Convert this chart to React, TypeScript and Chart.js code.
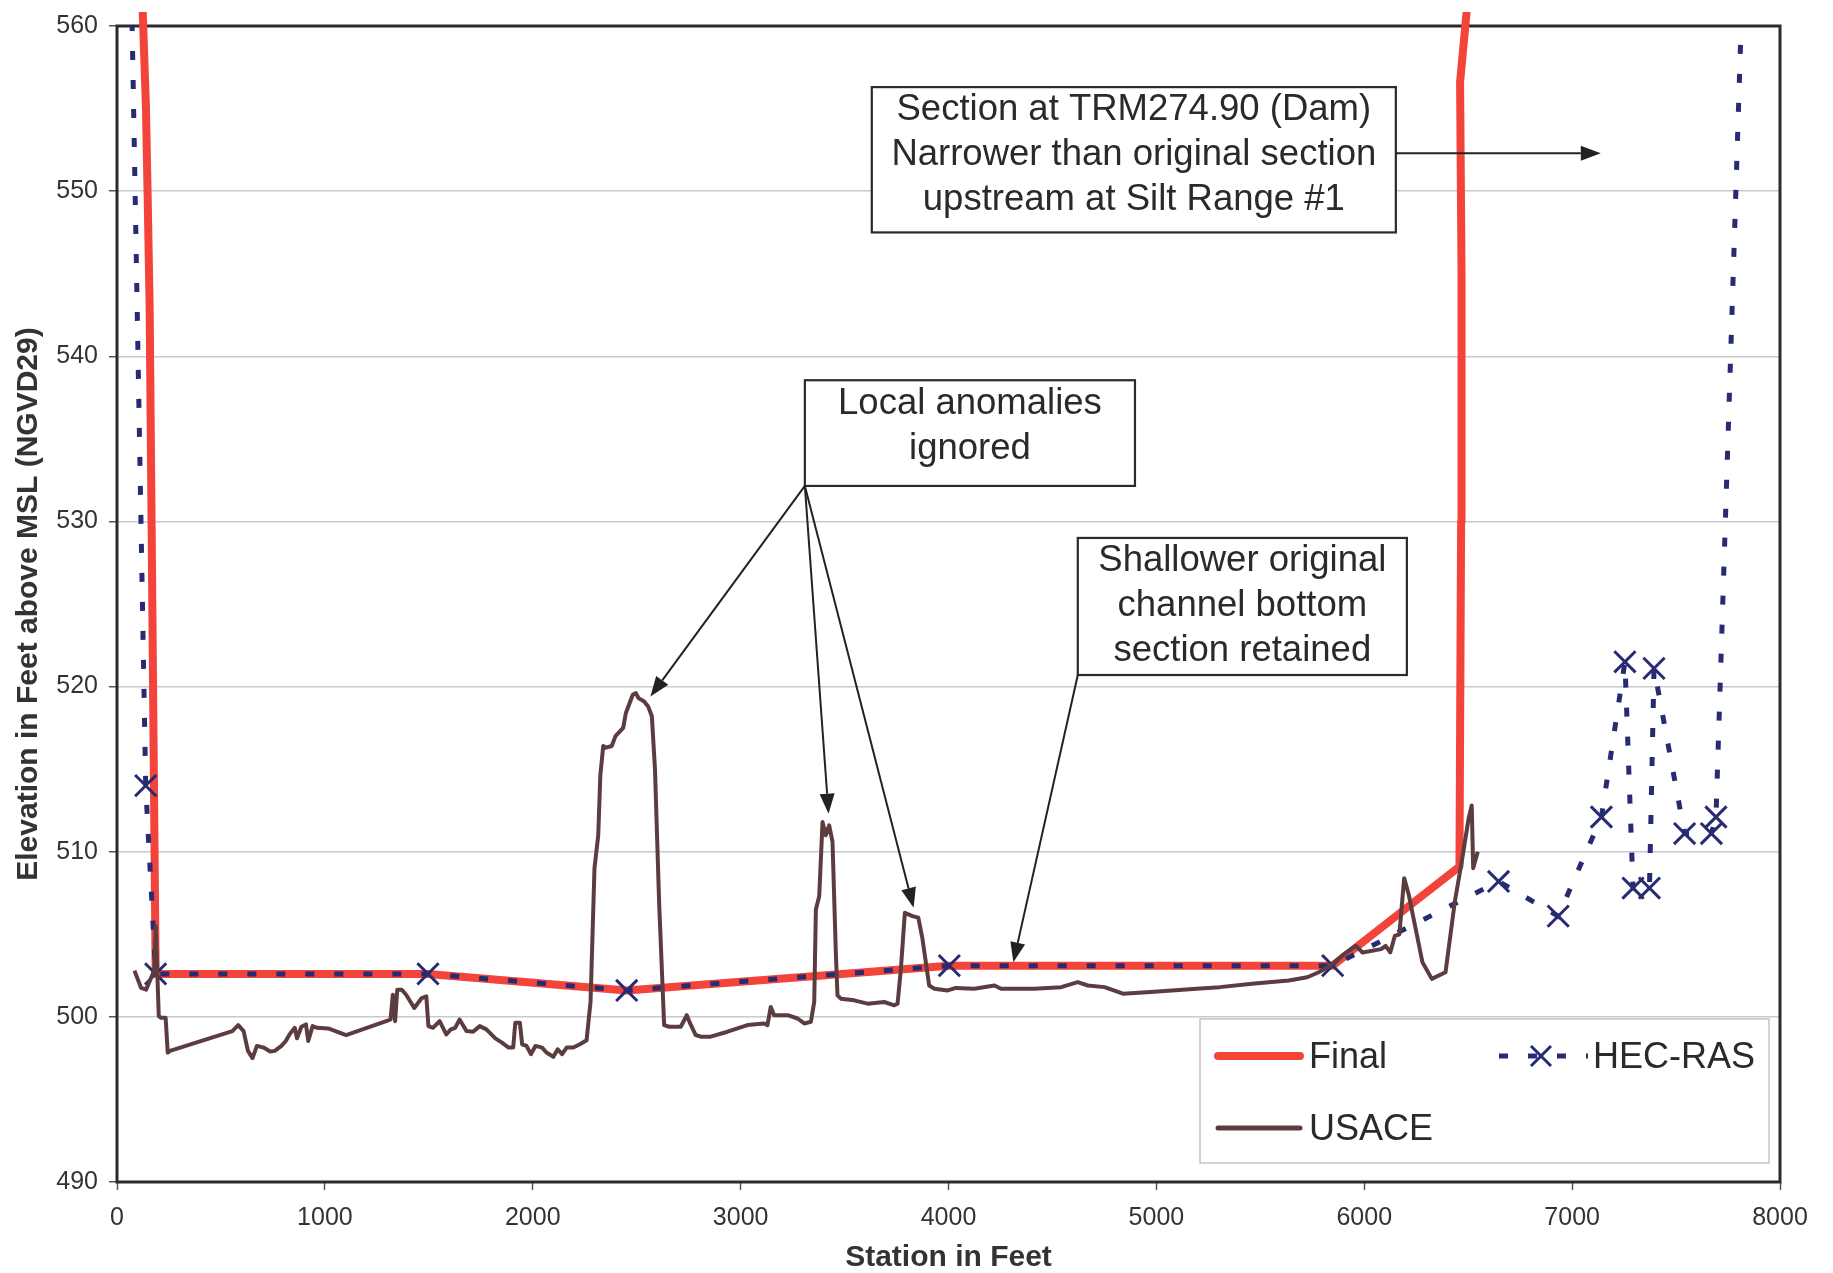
import React, { useEffect, useRef } from 'react';
import { Chart, registerables } from 'chart.js';

Chart.register(...registerables);

// ---------------- DATA ----------------
const seriesNames = ['Final', 'HEC-RAS', 'USACE'];

const finalStations = [124, 139, 147, 157, 186, 1496, 2452, 4004, 5848, 6458, 6466, 6468, 6461, 6492];
const finalElevations = [560.8, 555.2, 550, 543, 502.6, 502.6, 501.6, 503.1, 503.1, 509.1, 530, 545, 556.6, 560.8];

const hecStations = [70, 138, 186, 1496, 2452, 4004, 5848, 6646, 6933, 7141, 7254, 7293, 7372, 7394, 7541, 7670, 7692, 7818];
const hecElevations = [562, 514.0, 502.6, 502.6, 501.6, 503.1, 503.1, 508.2, 506.1, 512.1, 521.5, 507.8, 507.8, 521.1, 511.1, 511.1, 512.1, 562];

const usaceStations = [
  84, 116, 140, 180, 186, 193, 201, 212, 234, 244, 255, 555, 583, 609, 630, 652, 673, 705, 737, 759,
  791, 812, 830, 855, 866, 887, 909, 920, 941, 962, 1016, 1102, 1295, 1316, 1327, 1338, 1348, 1370, 1391, 1430,
  1466, 1488, 1498, 1520, 1552, 1584, 1606, 1627, 1648, 1681, 1713, 1745, 1777, 1820, 1852, 1884, 1906, 1916, 1938, 1949,
  1970, 1991, 2013, 2045, 2066, 2099, 2120, 2141, 2163, 2195, 2227, 2259, 2270, 2278, 2297, 2315, 2325, 2339, 2352, 2380,
  2398, 2435, 2448, 2463, 2481, 2496, 2509, 2536, 2555, 2573, 2588, 2608, 2632, 2656, 2712, 2741, 2757, 2784, 2808, 2856,
  2937, 3033, 3113, 3129, 3145, 3161, 3226, 3274, 3306, 3338, 3354, 3362, 3378, 3394, 3410, 3426, 3442, 3458, 3466, 3482,
  3546, 3611, 3691, 3739, 3755, 3771, 3790, 3827, 3855, 3875, 3891, 3907, 3932, 3996, 4036, 4124, 4221, 4253, 4413, 4542,
  4622, 4670, 4751, 4839, 4972, 5194, 5305, 5460, 5637, 5726, 5781, 5837, 5903, 5959, 5992, 6081, 6103, 6125, 6147, 6169,
  6192, 6214, 6280, 6325, 6391, 6436, 6469, 6502, 6517, 6524, 6546
];
const usaceElevations = [
  502.8, 501.75, 501.65, 502.84, 505.5, 503.0, 500.04, 499.94, 499.94, 497.84, 497.94, 499.14, 499.5, 499.14, 497.94, 497.5, 498.24, 498.14, 497.9, 497.94,
  498.24, 498.54, 498.94, 499.34, 498.7, 499.4, 499.54, 498.54, 499.44, 499.34, 499.3, 498.9, 499.74, 499.84, 501.34, 499.74, 501.64, 501.64, 501.34, 500.54,
  501.14, 501.24, 499.44, 499.34, 499.74, 498.94, 499.24, 499.34, 499.84, 499.14, 499.1, 499.44, 499.24, 498.7, 498.44, 498.14, 498.14, 499.64, 499.64, 498.34,
  498.24, 497.74, 498.24, 498.14, 497.84, 497.58, 498.04, 497.74, 498.14, 498.14, 498.34, 498.58, 499.94, 500.9, 509.0, 511.0, 514.6, 516.4, 516.3, 516.4,
  517.0, 517.5, 518.4, 518.9, 519.5, 519.6, 519.3, 519.1, 518.8, 518.2, 515.0, 506.9, 499.5, 499.4, 499.4, 500.1, 499.6, 498.9, 498.8, 498.8,
  499.1, 499.5, 499.6, 499.5, 500.6, 500.1, 500.1, 499.9, 499.6, 499.7, 500.9, 506.5, 507.3, 511.8, 511.0, 511.6, 510.6, 503.9, 501.3, 501.1,
  501.0, 500.8, 500.9, 500.7, 500.8, 502.9, 506.3, 506.1, 506.0, 504.7, 503.3, 501.9, 501.7, 501.6, 501.75, 501.7, 501.9, 501.7, 501.7, 501.8,
  502.1, 501.9, 501.8, 501.4, 501.5, 501.7, 501.8, 502.0, 502.2, 502.4, 502.7, 503.1, 503.8, 504.3, 503.9, 504.1, 504.3, 503.9, 504.9, 505.0,
  508.4, 507.4, 503.3, 502.3, 502.7, 507.0, 509.4, 512.0, 512.8, 509.0, 510.0
];

const xTickValues = [0, 1000, 2000, 3000, 4000, 5000, 6000, 7000, 8000];
const yTickValues = [490, 500, 510, 520, 530, 540, 550, 560];

const xAxisTitle = 'Station in Feet';
const yAxisTitle = 'Elevation in Feet above MSL (NGVD29)';

const noteDamLines = ['Section at TRM274.90 (Dam)', 'Narrower than original section', 'upstream at Silt Range #1'];
const noteAnomalyLines = ['Local anomalies', 'ignored'];
const noteShallowLines = ['Shallower original', 'channel bottom', 'section retained'];

// ---------------- STYLE ----------------
const FONT = '"Liberation Sans", Arial, Helvetica, sans-serif';
const RED = '#F2443A';
const NAVY = '#272B72';
const BROWN = '#5C3D3F';
const TEXT = '#2A2A2A';

// annotation geometry expressed in data units (station / elevation)
const notes = [
  { lines: noteDamLines, box: { x1: 3631, x2: 6152, y1: 547.5, y2: 556.3 }, textShift: -5, from: [6152, 552.3], to: [[7138, 552.3]] },
  { lines: noteAnomalyLines, box: { x1: 3309, x2: 4897, y1: 532.15, y2: 538.55 }, textShift: -7, from: [3309, 532.15], to: [[2566, 519.4], [3423, 512.3], [3832, 506.6]] },
  { lines: noteShallowLines, box: { x1: 4622, x2: 6205, y1: 520.7, y2: 529.0 }, textShift: -1, from: [4622, 520.7], to: [[4312, 503.3]] },
];

const toPts = (xs: number[], ys: number[]) => xs.map((x, i) => ({ x, y: ys[i] }));

function drawArrow(ctx: CanvasRenderingContext2D, x0: number, y0: number, x1: number, y1: number) {
  const ang = Math.atan2(y1 - y0, x1 - x0);
  const len = 20;
  const half = 7.5;
  const bx = x1 - len * Math.cos(ang);
  const by = y1 - len * Math.sin(ang);
  ctx.beginPath();
  ctx.moveTo(x0, y0);
  ctx.lineTo(bx, by);
  ctx.stroke();
  ctx.beginPath();
  ctx.moveTo(x1, y1);
  ctx.lineTo(bx + half * Math.sin(ang), by - half * Math.cos(ang));
  ctx.lineTo(bx - half * Math.sin(ang), by + half * Math.cos(ang));
  ctx.closePath();
  ctx.fill();
}

function drawCross(ctx: CanvasRenderingContext2D, cx: number, cy: number, r: number) {
  ctx.beginPath();
  ctx.moveTo(cx - r, cy - r);
  ctx.lineTo(cx + r, cy + r);
  ctx.moveTo(cx - r, cy + r);
  ctx.lineTo(cx + r, cy - r);
  ctx.stroke();
}

const overlayPlugin = {
  id: 'overlay',
  beforeDatasetsDraw(chart: any) {
    const { ctx, chartArea: a } = chart;
    ctx.save();
    ctx.strokeStyle = '#2B2B2B';
    ctx.lineWidth = 3;
    ctx.strokeRect(a.left, a.top, a.right - a.left, a.bottom - a.top);
    ctx.restore();
  },
  afterDatasetsDraw(chart: any) {
    const { ctx, chartArea: a, scales } = chart;
    const px = (v: number) => scales.x.getPixelForValue(v);
    const py = (v: number) => scales.y.getPixelForValue(v);

    // annotations
    ctx.save();
    for (const n of notes) {
      const l = px(n.box.x1), r = px(n.box.x2), t = py(n.box.y2), b = py(n.box.y1);
      ctx.fillStyle = '#FFFFFF';
      ctx.fillRect(l, t, r - l, b - t);
      ctx.strokeStyle = '#2B2B2B';
      ctx.lineWidth = 2.2;
      ctx.strokeRect(l, t, r - l, b - t);
      ctx.fillStyle = TEXT;
      ctx.font = `36.5px ${FONT}`;
      ctx.textAlign = 'center';
      ctx.textBaseline = 'middle';
      const lh = 45;
      const cy = (t + b) / 2 + n.textShift;
      const cx = (l + r) / 2;
      n.lines.forEach((s, i) => {
        ctx.fillText(s, cx, cy + (i - (n.lines.length - 1) / 2) * lh);
      });
      ctx.strokeStyle = '#222222';
      ctx.fillStyle = '#222222';
      ctx.lineWidth = 2;
      for (const tgt of n.to) {
        drawArrow(ctx, px(n.from[0]), py(n.from[1]), px(tgt[0]), py(tgt[1]));
      }
    }
    ctx.restore();

    // legend
    ctx.save();
    const lw = 569, lhgt = 144;
    const lx = a.right - 11 - lw;
    const ly = a.bottom - 19 - lhgt;
    ctx.fillStyle = '#FFFFFF';
    ctx.fillRect(lx, ly, lw, lhgt);
    ctx.strokeStyle = '#C4C4C8';
    ctx.lineWidth = 1.5;
    ctx.strokeRect(lx, ly, lw, lhgt);
    ctx.lineCap = 'round';
    const row1 = ly + 37, row2 = ly + 109;
    ctx.strokeStyle = RED;
    ctx.lineWidth = 8;
    ctx.beginPath(); ctx.moveTo(lx + 18, row1); ctx.lineTo(lx + 100, row1); ctx.stroke();
    ctx.strokeStyle = BROWN;
    ctx.lineWidth = 5;
    ctx.beginPath(); ctx.moveTo(lx + 18, row2); ctx.lineTo(lx + 100, row2); ctx.stroke();
    ctx.lineCap = 'butt';
    ctx.strokeStyle = NAVY;
    ctx.lineWidth = 5;
    ctx.setLineDash([9, 20]);
    ctx.beginPath(); ctx.moveTo(lx + 299, row1); ctx.lineTo(lx + 388, row1); ctx.stroke();
    ctx.setLineDash([]);
    ctx.lineWidth = 3;
    drawCross(ctx, lx + 341, row1, 10);
    ctx.fillStyle = TEXT;
    ctx.font = `36px ${FONT}`;
    ctx.textAlign = 'left';
    ctx.textBaseline = 'middle';
    ctx.fillText(seriesNames[0], lx + 109, row1 + 2);
    ctx.fillText(seriesNames[1], lx + 393, row1 + 2);
    ctx.fillText(seriesNames[2], lx + 109, row2 + 2);
    ctx.restore();
  },
};

export default function App() {
  const ref = useRef<HTMLCanvasElement | null>(null);

  useEffect(() => {
    if (!ref.current) return;
    const chart = new Chart(ref.current, {
      type: 'scatter',
      data: {
        datasets: [
          {
            label: seriesNames[0],
            data: toPts(finalStations, finalElevations),
            showLine: true,
            borderColor: RED,
            backgroundColor: RED,
            borderWidth: 8,
            pointRadius: 0,
            borderJoinStyle: 'round',
            borderCapStyle: 'round',
            order: 3,
            clip: { left: 10, top: 14, right: 10, bottom: 10 },
          },
          {
            label: seriesNames[1],
            data: toPts(hecStations, hecElevations),
            showLine: true,
            borderColor: NAVY,
            backgroundColor: NAVY,
            borderWidth: 5,
            borderDash: [9, 20],
            pointStyle: 'crossRot',
            pointRadius: (c: any) => (c.raw && c.raw.y > 560 ? 0 : 15),
            pointBorderWidth: 3,
            pointBorderColor: NAVY,
            order: 2,
          },
          {
            label: seriesNames[2],
            data: toPts(usaceStations, usaceElevations),
            showLine: true,
            borderColor: BROWN,
            backgroundColor: BROWN,
            borderWidth: 4,
            pointRadius: 0,
            borderJoinStyle: 'round',
            order: 1,
          },
        ],
      },
      options: {
        animation: false,
        responsive: true,
        maintainAspectRatio: false,
        layout: { padding: { top: 20, right: 53, left: 0, bottom: 0 } },
        plugins: {
          legend: { display: false },
          tooltip: { enabled: false },
        },
        scales: {
          x: {
            type: 'linear',
            min: 0,
            max: 8000,
            afterBuildTicks: (s: any) => { s.ticks = xTickValues.map((v) => ({ value: v })); },
            afterFit: (s: any) => { s.height = 91; },
            border: { display: false },
            grid: { drawOnChartArea: false, drawTicks: true, tickLength: 8, tickColor: '#555', tickWidth: 1.5 },
            ticks: { color: '#333', font: { family: FONT, size: 25 }, padding: 13, maxRotation: 0, callback: (v: any) => String(v) },
            title: { display: true, text: xAxisTitle, color: '#333', font: { family: FONT, size: 30, weight: 'bold', lineHeight: 1.0 }, padding: { top: 0, bottom: 0 } },
          },
          y: {
            type: 'linear',
            min: 490,
            max: 560,
            afterBuildTicks: (s: any) => { s.ticks = yTickValues.map((v) => ({ value: v })); },
            afterFit: (s: any) => { s.width = 117; },
            border: { display: false },
            grid: { color: '#C8CAD2', lineWidth: 1.5, drawTicks: true, tickLength: 8, tickColor: '#555', tickWidth: 1.5 },
            ticks: { color: '#333', font: { family: FONT, size: 25 }, padding: 11, callback: (v: any) => String(v) },
            title: { display: true, text: yAxisTitle, color: '#333', font: { family: FONT, size: 30, weight: 'bold' }, padding: { top: 11, bottom: 0 } },
          },
        },
      },
      plugins: [overlayPlugin],
    } as any);
    return () => chart.destroy();
  }, []);

  return (
    <div style={{ position: 'fixed', left: 0, top: 0, width: 1833, height: 1273, background: '#FFFFFF' }}>
      <canvas ref={ref} />
    </div>
  );
}
